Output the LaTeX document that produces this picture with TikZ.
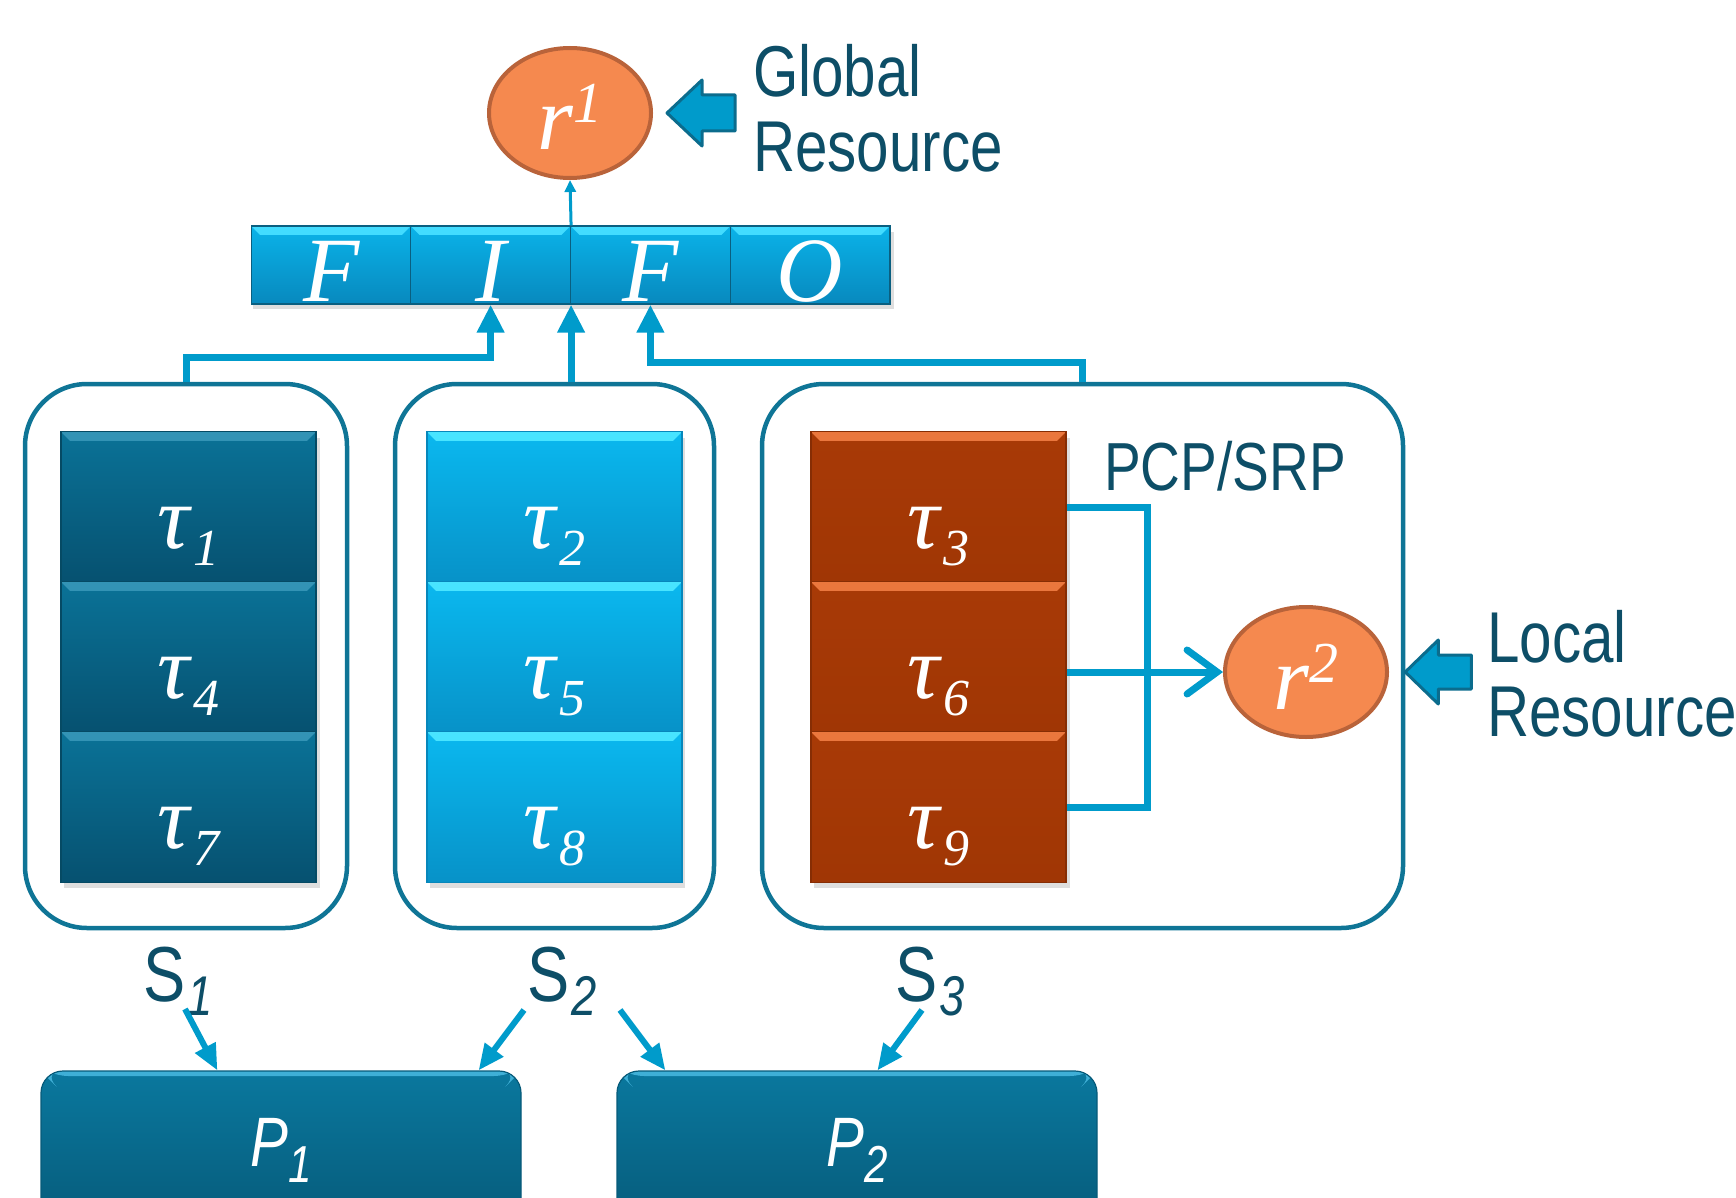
\documentclass[tikz,border=0pt]{standalone}
\usepackage{fontspec}
\setmainfont{Liberation Serif}
\newfontfamily\dinsans[FakeStretch=0.81]{Liberation Sans}
\usetikzlibrary{arrows.meta,calc,shapes.geometric}

\definecolor{linkblue}{HTML}{009BCB}
\definecolor{arrowedge}{HTML}{0B6C8D}
\definecolor{frame}{HTML}{0F7596}
\definecolor{ink}{HTML}{0D4E67}
\definecolor{resfill}{HTML}{F5894F}
\definecolor{resdraw}{HTML}{B9633A}
\definecolor{darkA}{HTML}{0A7297}
\definecolor{darkB}{HTML}{065170}
\definecolor{darkHi}{HTML}{3393B5}
\definecolor{darkEdge}{HTML}{054A64}
\definecolor{lightA}{HTML}{0AB8EF}
\definecolor{lightB}{HTML}{0792C8}
\definecolor{lightHi}{HTML}{48E4FF}
\definecolor{lightEdge}{HTML}{0787BB}
\definecolor{rustA}{HTML}{A83A06}
\definecolor{rustB}{HTML}{A03605}
\definecolor{rustHi}{HTML}{EA773D}
\definecolor{rustEdge}{HTML}{862D04}
\definecolor{fifoA}{HTML}{0AB3E9}
\definecolor{fifoB}{HTML}{0889BE}
\definecolor{fifoHi}{HTML}{42DCFF}
\definecolor{fifoEdge}{HTML}{0A5F80}
\definecolor{procA}{HTML}{0A789E}
\definecolor{procB}{HTML}{065A79}
\definecolor{procHi}{HTML}{3FAFD6}

% tau with an italic index
\newcommand\tauk[1]{\fontsize{90}{90}\selectfont\itshape τ\kern4pt\lower17pt\hbox{\fontsize{52}{52}\selectfont\itshape #1}}
% text whose baseline sits #1 below the node centre
\newcommand\lowered[2]{\raisebox{-#1pt}[0pt][0pt]{#2}}
% resource name r with a raised index
\newcommand\resname[1]{\fontsize{92}{92}\selectfont\itshape r\raisebox{27pt}{\fontsize{58}{58}\selectfont #1}}
% sans label with a lowered italic index
\newcommand\sublab[2]{#1\kern2pt\lower14pt\hbox{\fontsize{56}{56}\selectfont\itshape #2}}

\tikzset{
  bevel/.style 2 args={path picture={
      \fill[#1] (path picture bounding box.north west) -- (path picture bounding box.north east)
        -- ([shift={(-#2,#2)}]path picture bounding box.north east)
        -- ([shift={(#2,#2)}]path picture bounding box.north west) -- cycle;}},
  cell/.style n args={4}{rectangle, inner sep=0pt, top color=#1, bottom color=#2,
      bevel={#3}{9}, draw=#4, line width=1.2pt, text=white},
  tcell/.style n args={4}{cell={#1}{#2}{#3}{#4}, minimum width=255, minimum height=150.3},
  fcell/.style={cell={fifoA}{fifoB}{fifoHi}{fifoEdge}, minimum width=159.75, minimum height=78,
      font=\fontsize{92}{92}\selectfont\itshape},
  group/.style={draw=frame, line width=4.5pt, rounded corners=62pt, inner sep=0pt, minimum height=544},
  resource/.style={ellipse, fill=resfill, draw=resdraw, line width=4pt, inner sep=0pt,
      minimum width=162, minimum height=130, text=white},
  pbox/.style={rectangle, rounded corners=22pt, inner sep=0pt, top color=procA, bottom color=procB,
      bevel={procHi}{5}, draw=procB, line width=1.2pt, minimum width=480, minimum height=160, text=white,
      font=\dinsans\fontsize{70}{70}\selectfont\itshape},
  lbl/.style={text=ink, inner sep=0pt, anchor=base west, font=\dinsans\fontsize{72}{72}\selectfont},
  slbl/.style={text=ink, inner sep=0pt, anchor=base, font=\dinsans\fontsize{78}{78}\selectfont},
  link/.style={draw=linkblue, line width=7pt},
  feed/.style={link, -{Triangle[width=26pt,length=28pt]}},
  assign/.style={draw=linkblue, line width=6pt, -{Triangle[width=22pt,length=26pt]}},
  blockarrow/.style={fill=linkblue, draw=arrowedge, line width=3pt, line join=round},
  softshadow/.style={fill=black, opacity=0.13},
}

\begin{document}
\begin{tikzpicture}[x=1pt,y=-1pt]
\useasboundingbox (0,0) rectangle (1736,1198);

% global resource and its FIFO queue
\node[resource] (r1) at (570,113) {\lowered{37}{\resname{1}}};
\fill[softshadow] (253,232) rectangle (894,309);
\node[fcell] (f1) at (331.1,265) {\lowered{36}{F}};
\node[fcell] (f2) at (490.6,265) {\lowered{36}{I}};
\node[fcell] (f3) at (650.4,265) {\lowered{36}{F}};
\node[fcell] (f4) at (810.1,265) {\lowered{36}{O}};
\draw[draw=linkblue, line width=3pt, -{Triangle[width=11pt,length=12pt]}] (f2.north east) -- (r1.south);

\draw[blockarrow] ($(r1.east)+(14,0)$) -- ++(35,-33) -- ++(0,15) -- ++(33,0) -- ++(0,36)
  -- ++(-33,0) -- ++(0,15) -- cycle;
\node[lbl] (glob1) at (753,97) {Global};
\node[lbl] (glob2) at (753,172) {Resource};

% subsystems
\node[group, minimum width=322] (s1box) at (186,656) {};
\node[group, minimum width=319] (s2box) at (554.5,656) {};
\node[group, minimum width=641] (s3box) at (1082.5,656) {};

% shadows under the task columns
\fill[softshadow] (64,438) rectangle (320,888);
\fill[softshadow] (430,438) rectangle (685,888);
\fill[softshadow] (814,438) rectangle (1070,888);

\node[tcell={darkA}{darkB}{darkHi}{darkEdge}] (t1) at (188.5,507) {\lowered{41}{\tauk{1}}};
\node[tcell={darkA}{darkB}{darkHi}{darkEdge}] (t4) at (188.5,657) {\lowered{41}{\tauk{4}}};
\node[tcell={darkA}{darkB}{darkHi}{darkEdge}] (t7) at (188.5,807) {\lowered{41}{\tauk{7}}};

\node[tcell={lightA}{lightB}{lightHi}{lightEdge}] (t2) at (554.5,507) {\lowered{41}{\tauk{2}}};
\node[tcell={lightA}{lightB}{lightHi}{lightEdge}] (t5) at (554.5,657) {\lowered{41}{\tauk{5}}};
\node[tcell={lightA}{lightB}{lightHi}{lightEdge}] (t8) at (554.5,807) {\lowered{41}{\tauk{8}}};

\node[tcell={rustA}{rustB}{rustHi}{rustEdge}] (t3) at (938.5,507) {\lowered{41}{\tauk{3}}};
\node[tcell={rustA}{rustB}{rustHi}{rustEdge}] (t6) at (938.5,657) {\lowered{41}{\tauk{6}}};
\node[tcell={rustA}{rustB}{rustHi}{rustEdge}] (t9) at (938.5,807) {\lowered{41}{\tauk{9}}};

% requests into the FIFO queue
\draw[feed] (s1box.north) -- ++(0,-24) -| (f2.south);
\draw[feed] (f2.south east |- s2box.north) -- (f2.south east);
\draw[feed] (s3box.north) -- ++(0,-19) -| (f3.south);

% local resource under PCP/SRP
\node[resource] (r2) at (1306,672) {\lowered{37}{\resname{2}}};
\node[lbl, font=\dinsans\fontsize{68}{68}\selectfont] (pcp) at (1104,490) {PCP/SRP};
\draw[link] (t3.east) -- ++(81,0) |- (t9.east);
\draw[link, -{Straight Barb[length=30pt,width=44pt,line cap=round]}] (t6.east |- r2.west) -- (r2.west);

\draw[blockarrow] (s3box.east |- r2.center) -- ++(33,-32) -- ++(0,15) -- ++(33,0) -- ++(0,34)
  -- ++(-33,0) -- ++(0,15) -- cycle;
\node[lbl] (loc1) at (1487,662) {Local};
\node[lbl] (loc2) at (1487,736) {Resource};

% subsystem names
\node[slbl] (n1) at (178,1001) {\sublab{S}{1}};
\node[slbl] (n2) at (562,1001) {\sublab{S}{2}};
\node[slbl] (n3) at (930,1001) {\sublab{S}{3}};

% processors
\node[pbox] (p1) at (281,1151) {\lowered{15}{P\lower16pt\hbox{\fontsize{52}{52}\selectfont 1}}};
\node[pbox] (p2) at (857,1151) {\lowered{15}{P\lower16pt\hbox{\fontsize{52}{52}\selectfont 2}}};

% subsystem to processor mapping
\coordinate (a1) at (185,1009);
\coordinate (a2) at (524,1010);
\coordinate (a3) at (620,1010);
\coordinate (a4) at (922,1010);
\draw[assign] (a1) -- ($(p1.north west)+(177,0)$);
\draw[assign] (a2) -- ($(p1.north east)+(-43,0)$);
\draw[assign] (a3) -- ($(p2.north west)+(49,0)$);
\draw[assign] (a4) -- ($(p2.north west)+(261,0)$);
\end{tikzpicture}
\end{document}
